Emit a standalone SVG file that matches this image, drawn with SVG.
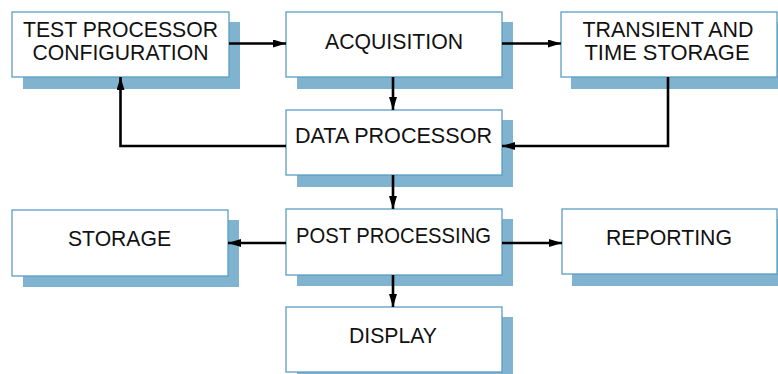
<svg xmlns="http://www.w3.org/2000/svg" width="778" height="374" viewBox="0 0 778 374">
<defs>
<style>
.sh{fill:#80b3cf;}
.bx{fill:#ffffff;stroke:#5b9dc4;stroke-width:1.3;}
.tx{font-family:"Liberation Sans",Arial,sans-serif;font-size:22px;fill:#111;text-anchor:middle;}
.cn{fill:none;stroke:#000;stroke-width:2.6;}
</style>
<marker id="ah" markerWidth="13" markerHeight="8" refX="13" refY="4" orient="auto" markerUnits="userSpaceOnUse">
<path d="M0,0 L13,4 L0,8 Z" fill="#000"/>
</marker>
</defs>
<rect width="778" height="374" fill="#fff"/>
<g id="test-config">
<rect class="sh" x="23" y="22" width="217" height="67"/>
<rect class="bx" x="12" y="12" width="217" height="65"/>
<text class="tx" x="120.5" y="37" textLength="195" lengthAdjust="spacingAndGlyphs">TEST PROCESSOR</text>
<text class="tx" x="120.5" y="60" textLength="176" lengthAdjust="spacingAndGlyphs">CONFIGURATION</text>
</g>
<g id="acquisition">
<rect class="sh" x="297" y="22" width="216" height="67"/>
<rect class="bx" x="286" y="12" width="216" height="65"/>
<text class="tx" x="394" y="49" textLength="138" lengthAdjust="spacingAndGlyphs">ACQUISITION</text>
</g>
<g id="transient">
<rect class="sh" x="571" y="22" width="220" height="67"/>
<rect class="bx" x="561" y="12" width="216" height="65"/>
<text class="tx" x="668" y="37" textLength="171" lengthAdjust="spacingAndGlyphs">TRANSIENT AND</text>
<text class="tx" x="667" y="60" textLength="165" lengthAdjust="spacingAndGlyphs">TIME STORAGE</text>
</g>
<g id="data-processor">
<rect class="sh" x="297" y="120" width="216" height="67"/>
<rect class="bx" x="286" y="110" width="216" height="65"/>
<text class="tx" x="393.5" y="143" textLength="197" lengthAdjust="spacingAndGlyphs">DATA PROCESSOR</text>
</g>
<g id="storage">
<rect class="sh" x="23" y="220" width="216" height="67"/>
<rect class="bx" x="12" y="210" width="216" height="66"/>
<text class="tx" x="119.5" y="246" textLength="103" lengthAdjust="spacingAndGlyphs">STORAGE</text>
</g>
<g id="post-processing">
<rect class="sh" x="297" y="219" width="216" height="67"/>
<rect class="bx" x="286" y="209" width="216" height="66"/>
<text class="tx" x="393.5" y="243" textLength="195" lengthAdjust="spacingAndGlyphs">POST PROCESSING</text>
</g>
<g id="reporting">
<rect class="sh" x="572" y="219" width="220" height="67"/>
<rect class="bx" x="562" y="209" width="215" height="65"/>
<text class="tx" x="669" y="245" textLength="126" lengthAdjust="spacingAndGlyphs">REPORTING</text>
</g>
<g id="display">
<rect class="sh" x="297" y="317" width="216" height="67"/>
<rect class="bx" x="286" y="307" width="216" height="65"/>
<text class="tx" x="393" y="343" textLength="88" lengthAdjust="spacingAndGlyphs">DISPLAY</text>
</g>
<g id="connectors">
<line class="cn" x1="229" y1="43.5" x2="286" y2="43.5" marker-end="url(#ah)"/>
<line class="cn" x1="502" y1="43.5" x2="561" y2="43.5" marker-end="url(#ah)"/>
<line class="cn" x1="393" y1="77" x2="393" y2="110" marker-end="url(#ah)"/>
<polyline class="cn" points="668,77 668,146 502,146" marker-end="url(#ah)"/>
<polyline class="cn" points="286,146 120.5,146 120.5,77" marker-end="url(#ah)"/>
<line class="cn" x1="393" y1="175" x2="393" y2="209" marker-end="url(#ah)"/>
<line class="cn" x1="286" y1="243" x2="228" y2="243" marker-end="url(#ah)"/>
<line class="cn" x1="502" y1="243" x2="562" y2="243" marker-end="url(#ah)"/>
<line class="cn" x1="393" y1="275" x2="393" y2="307" marker-end="url(#ah)"/>
</g>
</svg>
